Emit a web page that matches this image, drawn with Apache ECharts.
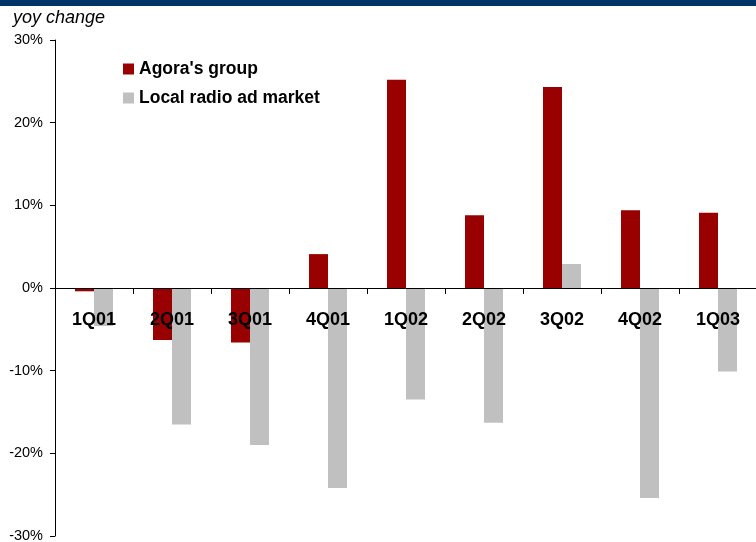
<!DOCTYPE html>
<html>
<head>
<meta charset="utf-8">
<script src="https://cdn.jsdelivr.net/npm/echarts@6/dist/echarts.min.js"></script>
<style>
  html, body { margin: 0; padding: 0; background: #fff; }
  #chart { width: 756px; height: 542px; }
</style>
</head>
<body>
<div id="chart"></div>
<script>
// Quarterly year-on-year change, in percent
const quarters = ['1Q01', '2Q01', '3Q01', '4Q01', '1Q02', '2Q02', '3Q02', '4Q02', '1Q03'];
const agoraGroup = [-0.4, -6.3, -6.6, 4.1, 25.2, 8.8, 24.3, 9.4, 9.1];
const localRadioMarket = [-4.6, -16.5, -19.0, -24.2, -13.5, -16.3, 2.9, -25.4, -10.1];
const seriesNames = ["Agora's group", 'Local radio ad market'];
const axisTitle = 'yoy change';

const chart = echarts.init(document.getElementById('chart'), null, { renderer: 'canvas' });

// Plot area spans y = 40..536; the category axis sits on the zero line, half way up.
const gridTop = 40, gridBottom = 6, plotHeight = 542 - gridTop - gridBottom;

chart.setOption({
  animation: false,
  backgroundColor: '#ffffff',
  textStyle: { fontFamily: 'Liberation Sans, Arial, sans-serif' },
  graphic: [{
    type: 'rect',
    left: 0, top: 0,
    shape: { width: 756, height: 6 },
    style: { fill: '#003366' }
  }],
  title: {
    text: axisTitle,
    left: 8, top: 4,
    textStyle: { fontSize: 18, fontStyle: 'italic', fontWeight: 'normal', color: '#000' }
  },
  legend: {
    orient: 'vertical',
    left: 118, top: 55,
    itemWidth: 11, itemHeight: 11,
    itemGap: 11,
    icon: 'rect',
    data: seriesNames,
    textStyle: { fontSize: 17.5, fontWeight: 'bold', color: '#000', padding: [0, 0, 0, 0] }
  },
  grid: { left: 55, right: -1, top: gridTop, bottom: gridBottom, containLabel: false, outerBoundsMode: 'none' },
  xAxis: {
    type: 'category',
    data: quarters,
    position: 'bottom',
    offset: -plotHeight / 2,
    z: 10,
    axisLine: { onZero: false, lineStyle: { color: '#000', width: 1 } },
    axisTick: { show: true, length: 6, inside: false, lineStyle: { color: '#000' } },
    axisLabel: { margin: 23, fontSize: 18, fontWeight: 'bold', color: '#000', interval: 0 },
    splitLine: { show: false }
  },
  yAxis: {
    type: 'value',
    min: -30, max: 30, interval: 10,
    axisLine: { show: true, lineStyle: { color: '#000', width: 1 } },
    axisTick: { show: true, length: 5, lineStyle: { color: '#000' } },
    axisLabel: { formatter: '{value}%', fontSize: 14.5, color: '#000', margin: 12 },
    splitLine: { show: false }
  },
  series: [
    {
      name: seriesNames[0],
      type: 'bar',
      data: agoraGroup,
      barWidth: 19,
      barGap: '0%',
      itemStyle: { color: '#990000' }
    },
    {
      name: seriesNames[1],
      type: 'bar',
      data: localRadioMarket,
      barWidth: 19,
      barGap: '0%',
      itemStyle: { color: '#c0c0c0' }
    }
  ]
});
</script>
</body>
</html>
